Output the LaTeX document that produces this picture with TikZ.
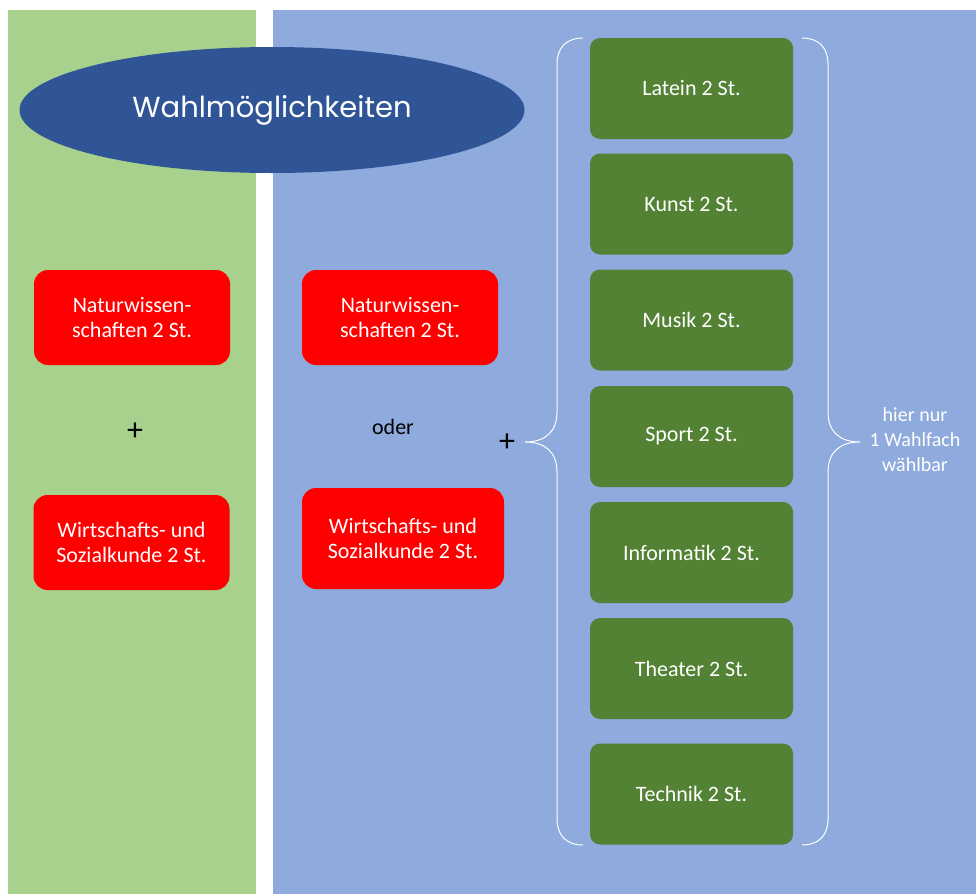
\documentclass[tikz,border=0pt]{standalone}
\usepackage{fontspec}
\setmainfont{Carlito}
\newfontfamily\titlefont{Poppins}
\usetikzlibrary{shapes.geometric}
\definecolor{panelgreen}{HTML}{A9D18E}
\definecolor{panelblue}{HTML}{8FAADC}
\definecolor{titleblue}{HTML}{2F5597}
\definecolor{fachgreen}{HTML}{548235}
\begin{document}
\begin{tikzpicture}[x=1pt, y=-1pt,
		redbox/.style={fill=red, rounded corners=14pt, text=white, align=center, inner sep=0pt, minimum width=196pt, minimum height=95pt, font=\fontsize{22}{25}\selectfont},
		fachbox/.style={fill=fachgreen, rounded corners=10pt, text=white, inner sep=0pt, minimum width=203pt, minimum height=101pt, font=\fontsize{22}{25}\selectfont},
		sign/.style={font=\fontsize{22}{25}\selectfont}]
		\useasboundingbox (0,0) rectangle (976,894);
		\fill[panelgreen] (8,10) rectangle (256,894);
		\fill[panelblue] (273,10) rectangle (976,894);
		\node[ellipse, fill=titleblue, inner sep=0pt, minimum width=505pt, minimum height=126pt, text=white, font=\titlefont\fontsize{29}{34}\selectfont] (titel) at (272,110) {\raisebox{-2pt}{Wahlmöglichkeiten}};
		\node[redbox] (nawiA) at (132,317.5) {Naturwissen-\\schaften 2 St.};
		\node[sign, font=\fontsize{32}{34}\selectfont] (plusA) at (135,432) {+};
		\node[redbox] (wisoA) at (131.5,542.5) {Wirtschafts- und\\Sozialkunde 2 St.};
		\node[redbox] (nawiB) at (400,317.5) {Naturwissen-\\schaften 2 St.};
		\node[sign] (oder) at (393,427) {oder};
		\node[redbox, minimum width=202pt, minimum height=101pt] (wisoB) at (403,538.5) {Wirtschafts- und\\Sozialkunde 2 St.};
		\node[sign, font=\fontsize{32}{34}\selectfont] (plusB) at (507,443) {+};
		\foreach \name/\y/\fach in {latein/88.5/Latein, kunst/204/Kunst, musik/320/Musik, sport/436.5/Sport, info/552.5/Informatik, theater/668.5/Theater, technik/794/Technik}
			\node[fachbox] (\name) at (691.5,\y) {\fach{} 2 St.};
		\draw[white, line width=1pt] (583,38) .. controls (566,38) and (557,48) .. (557,64) -- (557,412) .. controls (557,432) and (545,442) .. (525,442) .. controls (545,442) and (557,452) .. (557,472) -- (557,819) .. controls (557,835) and (566,845) .. (583,845);
		\draw[white, line width=1pt] (802,38) .. controls (819,38) and (828,48) .. (828,64) -- (828,412) .. controls (828,432) and (840,442) .. (860,442) .. controls (840,442) and (828,452) .. (828,472) -- (828,819) .. controls (828,835) and (819,845) .. (802,845);
		\node[text=white, align=center, font=\fontsize{20}{25}\selectfont] (hinweis) at (915,440) {hier nur\\1 Wahlfach\\wählbar};
	\end{tikzpicture}
\end{document}
